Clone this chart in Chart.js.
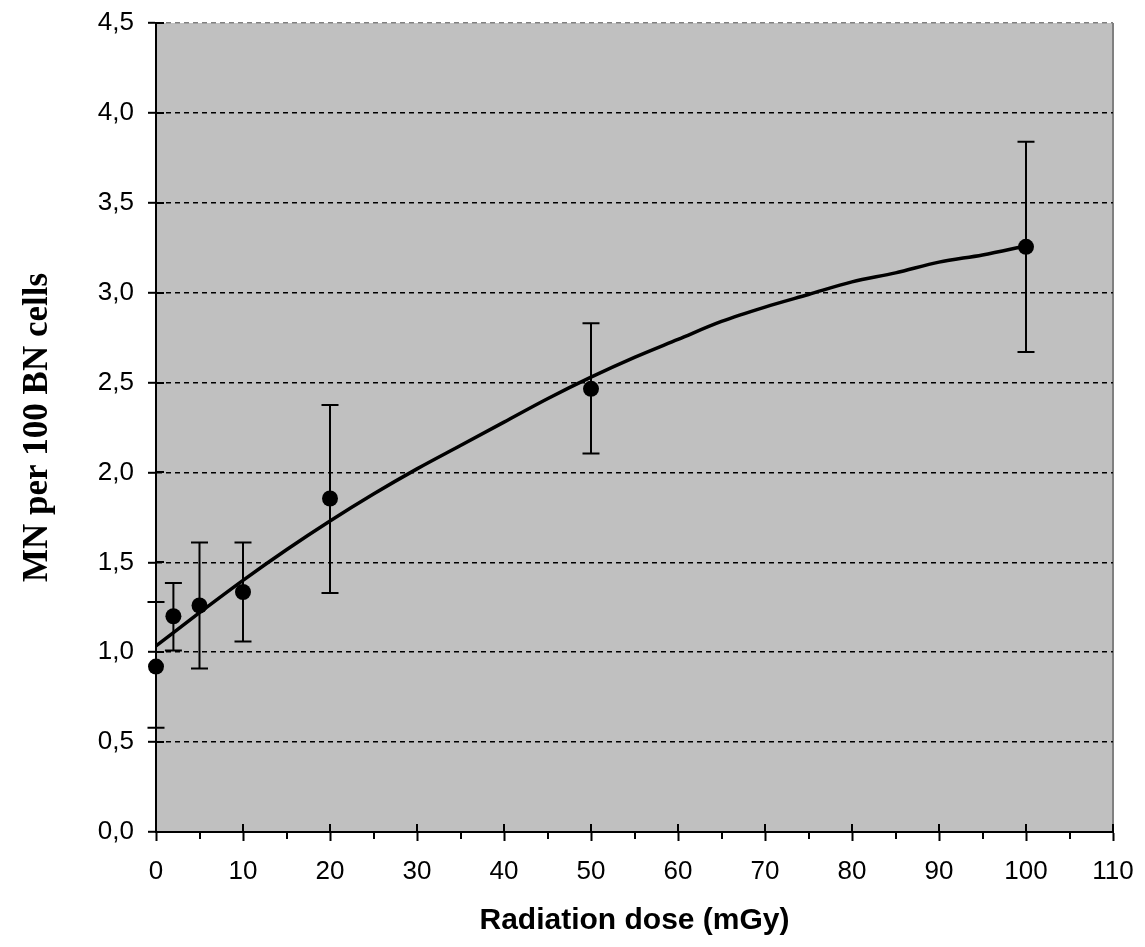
<!DOCTYPE html>
<html>
<head>
<meta charset="utf-8">
<script src="https://cdn.jsdelivr.net/npm/chart.js@4/dist/chart.umd.min.js"></script>
<style>
  html, body { margin: 0; padding: 0; background: #ffffff; }
  #wrap { width: 1145px; height: 947px; position: relative; }
</style>
</head>
<body>
<div id="wrap"><canvas id="c" width="1145" height="947"></canvas></div>
<script>
// Observed data (mean MN per 100 BN cells, with error bar limits)
const doses = [0, 2, 5, 10, 20, 50, 100];
const means = [0.92, 1.20, 1.26, 1.335, 1.855, 2.465, 3.255];
const upperErr = [1.28, 1.385, 1.61, 1.61, 2.375, 2.83, 3.84];
const lowerErr = [0.58, 1.01, 0.91, 1.06, 1.33, 2.105, 2.67];

// Fitted curve
const fitDoses = [0, 5, 10, 15, 20, 25, 30, 35, 40, 45, 50, 55, 60, 65, 70, 75, 80, 85, 90, 95, 100];
const fitValues = [1.035, 1.22, 1.40, 1.57, 1.73, 1.88, 2.02, 2.15, 2.28, 2.41, 2.53, 2.64, 2.74, 2.84, 2.92, 2.99, 3.06, 3.11, 3.17, 3.21, 3.26];

// Axis tick settings
const xMin = 0, xMax = 110, xStep = 10, xMinorStep = 5;
const yMin = 0, yMax = 4.5, yStep = 0.5;

const xTitle = 'Radiation dose (mGy)';
const yTitle = 'MN per 100 BN cells';

const bgPlugin = {
  id: 'bg',
  beforeDraw(chart) {
    const {ctx, chartArea: a} = chart;
    ctx.save();
    ctx.fillStyle = '#c0c0c0';
    ctx.fillRect(a.left, a.top, a.right - a.left, a.bottom - a.top);
    ctx.strokeStyle = '#808080';
    ctx.lineWidth = 2;
    ctx.beginPath();
    ctx.moveTo(a.right, a.top);
    ctx.lineTo(a.right, a.bottom);
    ctx.stroke();
    ctx.restore();
  }
};

const errPlugin = {
  id: 'errbars',
  beforeDatasetsDraw(chart) {
    const {ctx, scales: {x, y}} = chart;
    ctx.save();
    ctx.strokeStyle = '#000';
    ctx.lineWidth = 2;
    const cap = 8.5;
    for (let i = 0; i < doses.length; i++) {
      const px = x.getPixelForValue(doses[i]);
      const pu = y.getPixelForValue(upperErr[i]);
      const pl = y.getPixelForValue(lowerErr[i]);
      ctx.beginPath();
      ctx.moveTo(px, pu); ctx.lineTo(px, pl);
      ctx.moveTo(px - cap, pu); ctx.lineTo(px + cap, pu);
      ctx.moveTo(px - cap, pl); ctx.lineTo(px + cap, pl);
      ctx.stroke();
    }
    ctx.restore();
  }
};

const tickPlugin = {
  id: 'extraTicks',
  afterDraw(chart) {
    const {ctx, scales: {x, y}, chartArea: a} = chart;
    ctx.save();
    ctx.strokeStyle = '#000';
    ctx.lineWidth = 2;
    ctx.beginPath();
    for (let v = xMin; v <= xMax + 1e-9; v += xMinorStep) {
      const px = Math.round(x.getPixelForValue(v));
      if (Math.abs(v / xStep - Math.round(v / xStep)) < 1e-9) {
        ctx.moveTo(px, a.bottom); ctx.lineTo(px, a.bottom - 8);
      } else {
        ctx.moveTo(px, a.bottom); ctx.lineTo(px, a.bottom + 7);
      }
    }
    for (let v = yMin; v <= yMax + 1e-9; v += yStep) {
      const py = Math.round(y.getPixelForValue(v));
      ctx.moveTo(a.left, py); ctx.lineTo(a.left + 8, py);
    }
    ctx.stroke();
    ctx.restore();
  }
};

new Chart(document.getElementById('c'), {
  type: 'scatter',
  data: {
    datasets: [
      {
        label: 'Observed',
        data: doses.map((d, i) => ({x: d, y: means[i]})),
        showLine: false,
        clip: false,
        pointRadius: 8,
        pointHoverRadius: 8,
        pointBackgroundColor: '#000',
        pointBorderColor: '#000',
        pointBorderWidth: 0,
        order: 0
      },
      {
        label: 'Fit',
        data: fitDoses.map((d, i) => ({x: d, y: fitValues[i]})),
        showLine: true,
        borderColor: '#000',
        borderWidth: 3.5,
        pointRadius: 0,
        cubicInterpolationMode: 'monotone',
        order: 1
      }
    ]
  },
  options: {
    responsive: false,
    animation: false,
    events: [],
    layout: { padding: { top: 23, right: 32, left: 0, bottom: 0 } },
    plugins: {
      legend: { display: false },
      tooltip: { enabled: false }
    },
    scales: {
      x: {
        type: 'linear',
        min: xMin, max: xMax,
        afterFit(scale) {
          scale.height = 115;
          scale.paddingLeft = 0; scale.paddingRight = 0;
        },
        ticks: {
          stepSize: xStep,
          color: '#000',
          padding: 15,
          maxRotation: 0,
          font: { family: 'Liberation Sans, Arial, sans-serif', size: 26 },
          callback: v => String(v)
        },
        grid: {
          display: true,
          drawOnChartArea: false,
          drawTicks: true,
          tickLength: 9,
          tickColor: '#000',
          tickWidth: 2
        },
        border: { display: true, color: '#000', width: 2 },
        title: {
          display: true,
          text: xTitle,
          color: '#000',
          font: { family: 'Liberation Sans, Arial, sans-serif', size: 30, weight: 'bold' },
          padding: { top: 0, bottom: 8 }
        }
      },
      y: {
        type: 'linear',
        min: yMin, max: yMax,
        afterFit(scale) {
          scale.width = 156;
          scale.paddingTop = 0; scale.paddingBottom = 0;
        },
        ticks: {
          stepSize: yStep,
          color: '#000',
          padding: 14,
          font: { family: 'Liberation Sans, Arial, sans-serif', size: 26 },
          callback: v => v.toFixed(1).replace('.', ',')
        },
        grid: {
          display: true,
          drawOnChartArea: true,
          drawTicks: true,
          tickLength: 8,
          tickColor: '#000',
          tickWidth: 2,
          lineWidth: 1.6,
          color: ctx => {
            const v = ctx.tick ? ctx.tick.value : null;
            if (v === 0) return 'rgba(0,0,0,0)';
            if (v === yMax) return '#808080';
            return '#000';
          }
        },
        border: { display: true, color: '#000', width: 2, dash: [5, 4] },
        title: {
          display: true,
          text: yTitle,
          color: '#000',
          font: { family: 'Liberation Serif, Times New Roman, serif', size: 35, weight: 'bold' },
          padding: { top: 17, bottom: 0 }
        }
      }
    }
  },
  plugins: [bgPlugin, errPlugin, tickPlugin]
});
</script>
</body>
</html>
